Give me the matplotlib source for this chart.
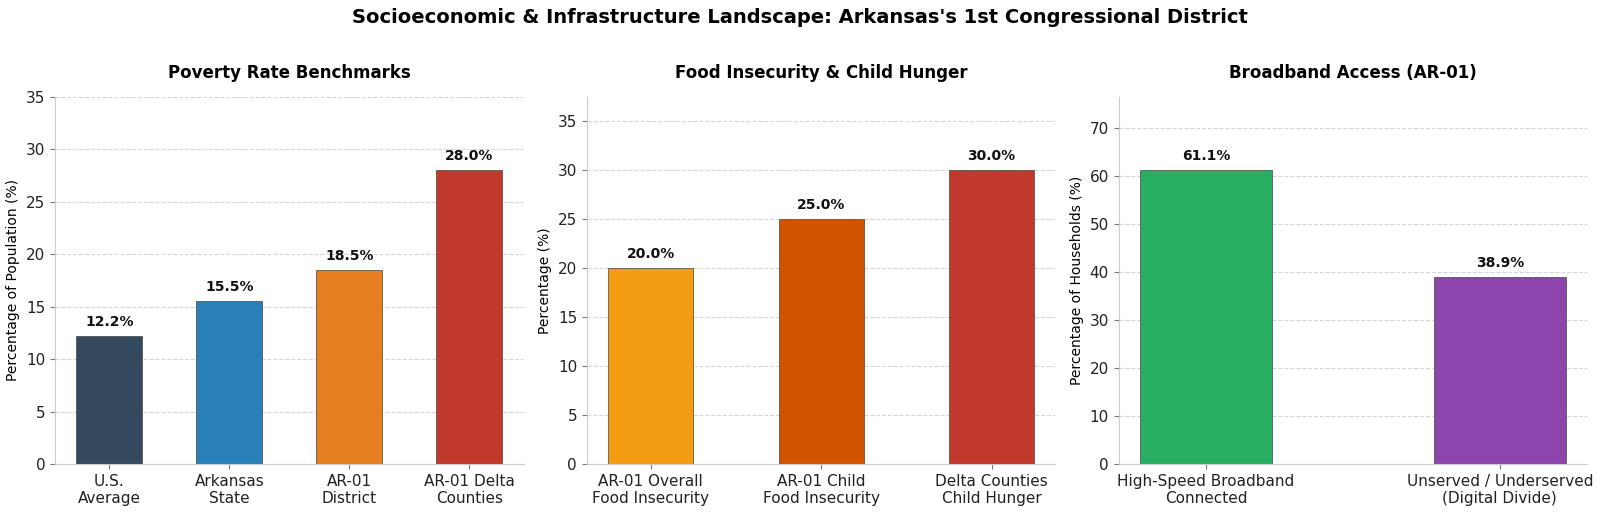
import numpy as np
import matplotlib.pyplot as plt

plt.rcParams['font.family'] = ['DejaVu Sans']

# chart data
poverty_labels = ['U.S.\nAverage', 'Arkansas\nState', 'AR-01\nDistrict', 'AR-01 Delta\nCounties']
poverty_values = [12.2, 15.5, 18.5, 28.0]
poverty_colors = ['#34495e', '#2980b9', '#e67e22', '#c0392b']

food_labels = ['AR-01 Overall\nFood Insecurity', 'AR-01 Child\nFood Insecurity', 'Delta Counties\nChild Hunger']
food_values = [20.0, 25.0, 30.0]
food_colors = ['#f39c12', '#d35400', '#c0392b']

bb_labels = ['High-Speed Broadband\nConnected', 'Unserved / Underserved\n(Digital Divide)']
bb_values = [61.1, 38.9]
bb_colors = ['#27ae60', '#8e44ad']

fig, axes = plt.subplots(1, 3, figsize=(16, 5.13), dpi=100)
fig.subplots_adjust(left=0.0344, right=0.992, bottom=0.0955, top=0.811, wspace=0.135)

panels = [
    (axes[0], poverty_labels, poverty_values, poverty_colors, 0.55,
     'Poverty Rate Benchmarks', 'Percentage of Population (%)'),
    (axes[1], food_labels, food_values, food_colors, 0.5,
     'Food Insecurity & Child Hunger', 'Percentage (%)'),
    (axes[2], bb_labels, bb_values, bb_colors, 0.45,
     'Broadband Access (AR-01)', 'Percentage of Households (%)'),
]

for ax, labels, values, colors, width, title, ylabel in panels:
    x = np.arange(len(values))
    ax.bar(x, values, width=width, color=colors, edgecolor='#444444', linewidth=0.5)
    ymax = max(values) * 1.25
    ax.set_ylim(0, ymax)
    for xi, v in zip(x, values):
        ax.text(xi, v + ymax * 0.02, f'{v:.1f}%', ha='center', va='bottom',
                fontsize=10, fontweight='bold', color='#111111')
    ax.set_xticks(x)
    ax.set_xticklabels(labels, fontsize=11)
    ax.tick_params(axis='y', labelsize=11)
    ax.tick_params(colors='#777777', labelcolor='#222222')
    ax.set_ylabel(ylabel, fontsize=10)
    ax.set_title(title, fontsize=12, fontweight='bold', pad=14)
    ax.grid(axis='y', linestyle='--', color='#cccccc', alpha=0.8, linewidth=0.8)
    ax.set_axisbelow(True)
    for s in ['top', 'right']:
        ax.spines[s].set_visible(False)
    for s in ['left', 'bottom']:
        ax.spines[s].set_color('#cccccc')

fig.suptitle("Socioeconomic & Infrastructure Landscape: Arkansas's 1st Congressional District",
             fontsize=14, fontweight='bold', y=0.985)

plt.savefig('out.png', dpi=100)
